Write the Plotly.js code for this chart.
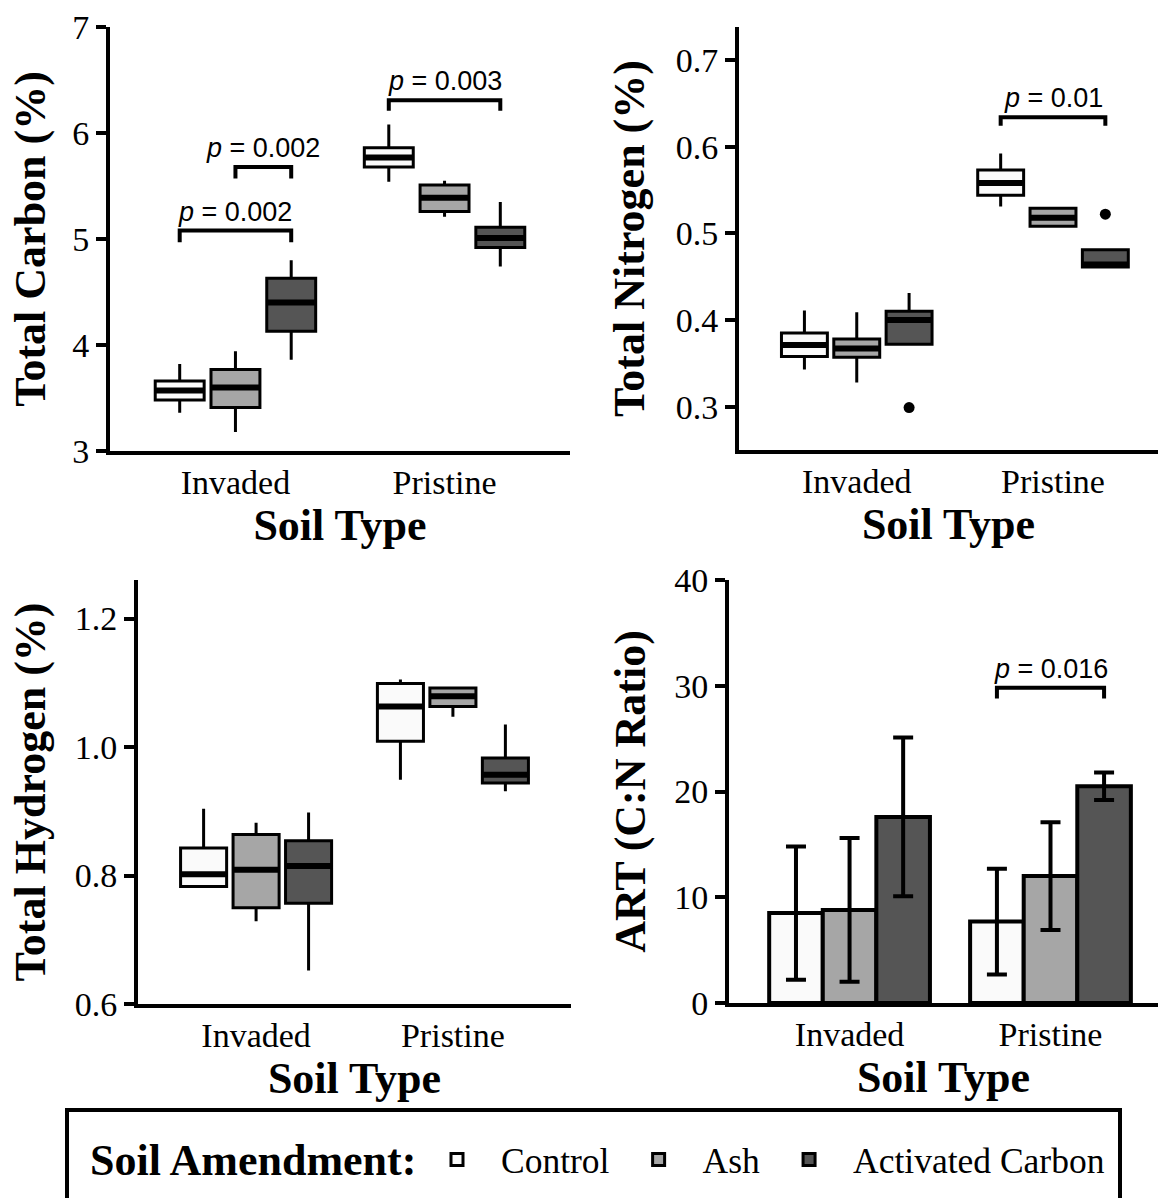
<!DOCTYPE html>
<html>
<head>
<meta charset="utf-8">
<script src="https://cdn.plot.ly/plotly-3.0.1.min.js"></script>
<style>html,body{margin:0;padding:0;background:#fff;}#chart{width:1159px;height:1198px;}</style>
</head>
<body>
<div id="chart"></div>
<script>
// ---------- data ----------
const categories = ['Invaded', 'Pristine'];
const amendments = ['Control', 'Ash', 'Activated Carbon'];
const fills = ['#fafafa', '#a6a6a6', '#555555'];

// rows: amendment (Control, Ash, Activated Carbon); columns: soil type (Invaded, Pristine)
const carbonLow  = [[3.36, 5.54], [3.18, 5.21], [3.86, 4.74]];
const carbonQ1   = [[3.48, 5.68], [3.41, 5.26], [4.13, 4.92]];
const carbonMed  = [[3.57, 5.77], [3.60, 5.39], [4.40, 5.01]];
const carbonQ3   = [[3.66, 5.86], [3.77, 5.51], [4.63, 5.11]];
const carbonHigh = [[3.82, 6.08], [3.94, 5.55], [4.80, 5.35]];

const nitrogenLow  = [[0.343, 0.531], [0.328, 0.508], [0.372, 0.461]];
const nitrogenQ1   = [[0.358, 0.544], [0.357, 0.508], [0.372, 0.461]];
const nitrogenMed  = [[0.371, 0.558], [0.367, 0.518], [0.400, 0.464]];
const nitrogenQ3   = [[0.385, 0.573], [0.378, 0.529], [0.410, 0.481]];
const nitrogenHigh = [[0.411, 0.592], [0.409, 0.529], [0.431, 0.481]];
const nitrogenOutlierSoil  = [0, 1];
const nitrogenOutlierAmend = [2, 2];
const nitrogenOutlierValue = [0.299, 0.522];

const hydrogenLow  = [[0.783, 0.949], [0.729, 1.047], [0.652, 0.931]];
const hydrogenQ1   = [[0.783, 1.009], [0.750, 1.063], [0.757, 0.944]];
const hydrogenMed  = [[0.802, 1.063], [0.809, 1.079], [0.815, 0.957]];
const hydrogenQ3   = [[0.843, 1.099], [0.864, 1.092], [0.854, 0.983]];
const hydrogenHigh = [[0.904, 1.105], [0.882, 1.092], [0.898, 1.035]];

const artMean = [[8.5, 7.7], [8.8, 12.0], [17.6, 20.5]];
const artSd   = [[6.3, 5.0], [6.8, 5.1], [7.5, 1.3]];

// significance brackets
const bracketPanel = ['carbon', 'carbon', 'carbon', 'nitrogen', 'art'];
const bracketSoil  = [0, 0, 1, 1, 1];
const bracketFrom  = [0, 1, 0, 0, 0];
const bracketTo    = [2, 2, 2, 2, 2];
const bracketY     = [5.08, 5.68, 6.31, 0.634, 29.8];
const bracketTip   = [4.97, 5.57, 6.21, 0.624, 28.8];
const bracketLabel = ['0.002', '0.002', '0.003', '0.01', '0.016'];

const legendTitle = 'Soil Amendment:';
const xTitle = 'Soil Type';

// ---------- layout helpers ----------
const W = 1159, H = 1198;
const dodge = 0.8 / 3;
const offsets = amendments.map((a, i) => (i - 1) * dodge);
const boxWidth = 0.234;
const px = v => v / W;
const py = v => 1 - v / H;

const panels = {
  carbon:   {xa: 'x',  ya: 'y',  xd: [px(110), px(570)],  yd: [py(451), py(27)]},
  nitrogen: {xa: 'x2', ya: 'y2', xd: [px(739), px(1158)], yd: [py(450), py(27)]},
  hydrogen: {xa: 'x3', ya: 'y3', xd: [px(138), px(571)],  yd: [py(1004), py(580)]},
  art:      {xa: 'x4', ya: 'y4', xd: [px(729), px(1158)], yd: [py(1003), py(580)]}
};

function boxTraces(low, q1, med, q3, high, p, showLegend) {
  const out = [];
  amendments.forEach((name, i) => {
    const xs = categories.map((c, j) => j + offsets[i]);
    out.push({
      type: 'box', name: name, legendgroup: name, showlegend: showLegend,
      x: xs, q1: q1[i], median: med[i], q3: q3[i], lowerfence: low[i], upperfence: high[i],
      width: boxWidth, fillcolor: fills[i], line: {color: 'black', width: 3},
      whiskerwidth: 0, boxpoints: false, hoverinfo: 'skip',
      xaxis: p.xa, yaxis: p.ya
    });
    out.push({
      type: 'box', showlegend: false, legendgroup: name,
      x: xs, q1: med[i], median: med[i], q3: med[i], lowerfence: med[i], upperfence: med[i],
      width: boxWidth * 0.97, fillcolor: 'rgba(0,0,0,0)', line: {color: 'black', width: 6},
      whiskerwidth: 0, boxpoints: false, hoverinfo: 'skip',
      xaxis: p.xa, yaxis: p.ya
    });
  });
  return out;
}

const traces = [];
traces.push(...boxTraces(carbonLow, carbonQ1, carbonMed, carbonQ3, carbonHigh, panels.carbon, true));
traces.push(...boxTraces(nitrogenLow, nitrogenQ1, nitrogenMed, nitrogenQ3, nitrogenHigh, panels.nitrogen, false));
traces.push(...boxTraces(hydrogenLow, hydrogenQ1, hydrogenMed, hydrogenQ3, hydrogenHigh, panels.hydrogen, false));

traces.push({
  type: 'scatter', mode: 'markers', showlegend: false, hoverinfo: 'skip',
  x: nitrogenOutlierSoil.map((s, k) => s + offsets[nitrogenOutlierAmend[k]]),
  y: nitrogenOutlierValue,
  marker: {color: 'black', size: 11},
  xaxis: panels.nitrogen.xa, yaxis: panels.nitrogen.ya
});

amendments.forEach((name, i) => {
  traces.push({
    type: 'bar', name: name, legendgroup: name, showlegend: false, hoverinfo: 'skip',
    x: categories.map((c, j) => j + offsets[i]), y: artMean[i], width: dodge,
    marker: {color: fills[i], line: {color: 'black', width: 4}},
    error_y: {type: 'data', array: artSd[i], visible: true, color: 'black', thickness: 4, width: 10},
    xaxis: panels.art.xa, yaxis: panels.art.ya
  });
});

// brackets as shapes + annotations
const shapes = [];
const annotations = [];
bracketPanel.forEach((pn, k) => {
  const p = panels[pn];
  const x0 = bracketSoil[k] + offsets[bracketFrom[k]];
  const x1 = bracketSoil[k] + offsets[bracketTo[k]];
  shapes.push({
    type: 'path', xref: p.xa, yref: p.ya,
    path: `M ${x0},${bracketTip[k]} L ${x0},${bracketY[k]} L ${x1},${bracketY[k]} L ${x1},${bracketTip[k]}`,
    line: {color: 'black', width: 4}
  });
  annotations.push({
    xref: p.xa, yref: p.ya, x: (x0 + x1) / 2, y: bracketY[k],
    yanchor: 'bottom', xanchor: 'center', showarrow: false, yshift: 2,
    text: '<i>p</i> = ' + bracketLabel[k],
    font: {family: 'Liberation Sans, Arial, sans-serif', size: 27, color: 'black'}
  });
});
// legend frame and title
shapes.push({
  type: 'rect', xref: 'paper', yref: 'paper',
  x0: px(67), x1: px(1120), y0: py(1110), y1: py(1230),
  line: {color: 'black', width: 4}, fillcolor: 'rgba(0,0,0,0)'
});
annotations.push({
  xref: 'paper', yref: 'paper', x: px(88), y: py(1160), xanchor: 'left', yanchor: 'middle',
  showarrow: false, text: legendTitle,
  font: {size: 44, color: 'black', weight: 'bold'}
});

const tickFont = {size: 34, color: 'black'};
const titleFont = {size: 44, color: 'black', weight: 'bold'};

function xCfg(p, range, anchor) {
  return {
    domain: p.xd, range: range, anchor: anchor,
    tickmode: 'array', tickvals: categories.map((c, j) => j), ticktext: categories,
    showline: true, linecolor: 'black', linewidth: 4, ticks: '', showgrid: false, zeroline: false,
    tickfont: tickFont, ticklabelstandoff: -2,
    title: {text: xTitle, font: titleFont, standoff: 0}
  };
}
function yCfg(p, range, dtick, fmt, title, anchor, standoff) {
  return {
    domain: p.yd, range: range, anchor: anchor, dtick: dtick, tick0: 0, tickformat: fmt,
    showline: true, linecolor: 'black', linewidth: 4, ticks: 'outside', ticklen: 10, tickwidth: 4,
    tickcolor: 'black', showgrid: false, zeroline: false, tickfont: tickFont,
    title: {text: title, font: titleFont, standoff: standoff}
  };
}

const layout = {
  width: W, height: H,
  margin: {l: 0, r: 0, t: 0, b: 0},
  paper_bgcolor: 'white', plot_bgcolor: 'white',
  font: {family: 'Liberation Serif, Times New Roman, serif', color: 'black'},
  boxmode: 'overlay', barmode: 'overlay',
  showlegend: true,
  legend: {
    orientation: 'h', x: px(413), xanchor: 'left', y: py(1160), yanchor: 'middle',
    bgcolor: 'rgba(0,0,0,0)', borderwidth: 0, itemwidth: 78,
    font: {size: 35.5, color: 'black'}
  },
  xaxis:  xCfg(panels.carbon, [-0.6, 1.6], 'y'),
  yaxis:  yCfg(panels.carbon, [3, 7], 1, '', 'Total Carbon (%)', 'x', 14),
  xaxis2: xCfg(panels.nitrogen, [-0.6, 1.535], 'y2'),
  yaxis2: yCfg(panels.nitrogen, [0.25, 0.738], 0.1, '.1f', 'Total Nitrogen (%)', 'x2', 18),
  xaxis3: xCfg(panels.hydrogen, [-0.6, 1.6], 'y3'),
  yaxis3: yCfg(panels.hydrogen, [0.6, 1.26], 0.2, '.1f', 'Total Hydrogen (%)', 'x3', 16),
  xaxis4: xCfg(panels.art, [-0.6, 1.535], 'y4'),
  yaxis4: yCfg(panels.art, [0, 40], 10, '', 'ART (C:N Ratio)', 'x4', 16),
  shapes: shapes,
  annotations: annotations
};

Plotly.newPlot('chart', traces, layout, {staticPlot: true, displayModeBar: false});
</script>
</body>
</html>
